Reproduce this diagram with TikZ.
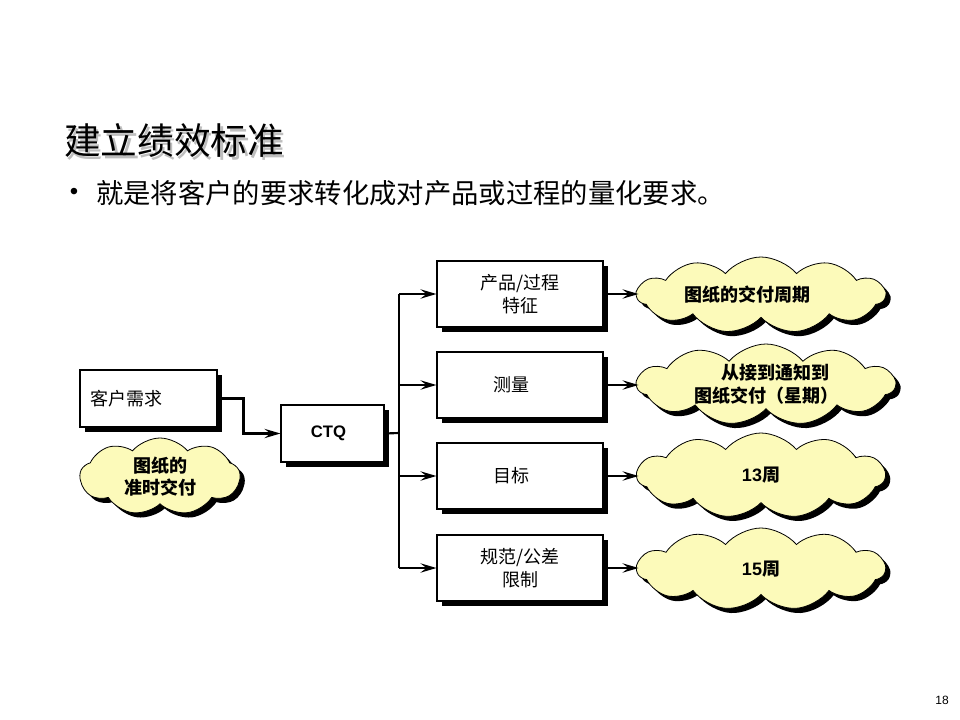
\documentclass[tikz,border=0pt]{standalone}
\usepackage{fontspec}
\setmainfont{Liberation Sans}
\newfontfamily\cjk{Noto Sans CJK SC}
\usetikzlibrary{shapes.symbols,shadows,arrows.meta}
\definecolor{cloudfill}{RGB}{252,250,186}
\definecolor{titleshadow}{RGB}{190,190,190}
\tikzset{
  boxshadow/.style={drop shadow={shadow xshift=3.5pt,shadow yshift=-3.5pt,opacity=1,fill=black}},
  box/.style={draw=black,line width=0.8pt,fill=white,inner sep=0pt,boxshadow,
    minimum width=166*0.75pt,minimum height=66*0.75pt,align=center,
    font=\cjk\fontsize{13.5}{17}\selectfont},
  puff/.style={cloud,cloud puffs=11,cloud puff arc=100,cloud ignores aspect,
    draw=black,line width=0.6pt,fill=cloudfill,inner sep=0pt,boxshadow,align=center,
    font=\cjk\bfseries\fontsize{13.5}{17}\selectfont},
  conn/.style={line width=1.6pt,-{Stealth[length=12pt,width=7pt,inset=4.5pt]}},
  wire/.style={line width=1.6pt},
  plain/.style={inner sep=0pt}
}
\begin{document}
\begin{tikzpicture}[x=0.75pt,y=-0.75pt]
\useasboundingbox (0,0) rectangle (960,720);
% title with its shadow in one text
\node[plain,anchor=west,font=\cjk\fontsize{27.5}{30}\selectfont] (title) at (64,142)
  {\rlap{\hspace{1.6pt}\raisebox{-1.8pt}{\textcolor{titleshadow}{建立绩效标准}}}建立绩效标准};
% bullet
\node[plain,font=\fontsize{18}{20}\selectfont] (dot) at (74,194) {•};
\node[plain,anchor=west,font=\cjk\fontsize{20.5}{24}\selectfont] (bullet) at (96,193) {就是将客户的要求转化成对产品或过程的量化要求。};
% left part
\node[box,minimum width=137*0.75pt,minimum height=57*0.75pt,text width=117*0.75pt,align=left] (kehu) at (148.5,398.5) {客户需求\\[4pt]};
\node[box,minimum width=103*0.75pt,minimum height=57*0.75pt,font=\bfseries\fontsize{12.5}{14}\selectfont] (ctq) at (332.5,433.5) {CTQ\hspace{6pt}};
\node[puff,cloud puffs=9,minimum width=160*0.75pt,minimum height=77*0.75pt] (c0) at (160,476.5) {图纸的\\准时交付};
% right boxes
\node[box] (b1) at (520,294) {产品/过程\\特征};
\node[box] (b2) at (520,385) {测量\hspace{1em}};
\node[box] (b3) at (520,476) {目标\hspace{1em}};
\node[box] (b4) at (520,568) {规范/公差\\限制};
% clouds
\node[puff,minimum width=248*0.75pt,minimum height=76*0.75pt] (c1) at (761,295) {图纸的交付周期\hspace{1.5em}};
\node[puff,minimum width=258*0.75pt,minimum height=81*0.75pt] (c2) at (766,384.5) {\hspace{1em}从接到通知到\\图纸交付（星期）};
\node[puff,minimum width=248*0.75pt,minimum height=85*0.75pt] (c3) at (761,475.5) {{\fontfamily{\rmdefault}\selectfont 13}周};
\node[puff,minimum width=248*0.75pt,minimum height=82*0.75pt] (c4) at (761,569) {{\fontfamily{\rmdefault}\selectfont 15}周};
% connectors
\coordinate (bus) at (399,433);
\draw[conn] (kehu.east) -- ++(26,0) |- (ctq.west);
\draw[wire] (ctq.east) -- (bus);
\draw[wire] (bus |- b1.west) -- (bus |- b4.west);
\foreach \b in {b1,b2,b3,b4}{
  \draw[conn] (bus |- \b.west) -- (\b.west);
}
\draw[conn] (b1.east) -- ++(35,0) coordinate (e1);
\draw[conn] (b2.east) -- ++(35,0) coordinate (e2);
\draw[conn] (b3.east) -- ++(35,0) coordinate (e3);
\draw[conn] (b4.east) -- ++(35,0) coordinate (e4);
% page number
\node[plain,font=\fontsize{9}{10}\selectfont] (pg) at (942,700) {18};
\end{tikzpicture}
\end{document}
